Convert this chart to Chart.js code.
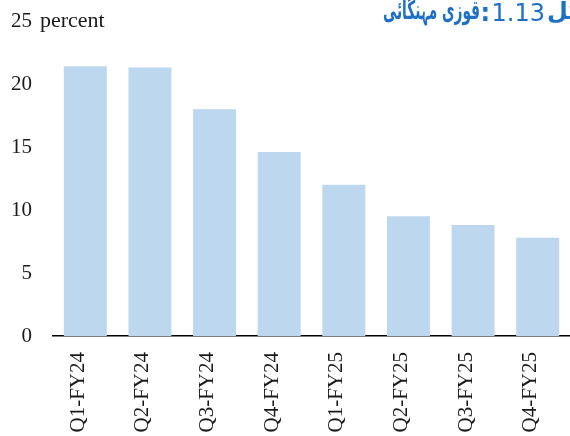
<!DOCTYPE html>
<html>
<head>
<meta charset="utf-8">
<script src="https://cdn.jsdelivr.net/npm/chart.js@4.4.1/dist/chart.umd.min.js"></script>
<style>
  html, body { margin: 0; padding: 0; background: #fff; }
  #wrap { width: 570px; height: 436px; position: relative; }
</style>
</head>
<body>
<div id="wrap"><canvas id="graph1"></canvas></div>
<script>
// quarters on the x axis
const quarters = ['Q1-FY24', 'Q2-FY24', 'Q3-FY24', 'Q4-FY24', 'Q1-FY25', 'Q2-FY25', 'Q3-FY25', 'Q4-FY25'];
// core inflation, percent
const coreInflation = [21.4, 21.3, 18.0, 14.6, 12.0, 9.5, 8.8, 7.8];
const yTicks = [0, 5, 10, 15, 20, 25];

const unitLabel = 'percent';
// heading pieces: word, figure number, colon, phrase (drawn right to left)
const titleWord = 'شکل';
const titleNumber = '1.13';
const titlePhrase = 'قوزی مہنگائی';

const serif = "'Liberation Serif', 'Times New Roman', serif";
const blue = '#1f6fc5';

// unit next to the top tick and the urdu heading on the right
const headings = {
  id: 'headings',
  afterDraw(chart) {
    const ctx = chart.ctx;
    ctx.save();
    ctx.fillStyle = '#1a1a1a';
    ctx.font = '22px ' + serif;
    ctx.textAlign = 'left';
    ctx.textBaseline = 'alphabetic';
    ctx.fillText(unitLabel, 40, 27);

    ctx.fillStyle = blue;
    // word runs off the right edge
    ctx.direction = 'rtl';
    ctx.font = "bold 24px 'DejaVu Sans', sans-serif";
    ctx.textAlign = 'left';
    ctx.fillText(titleWord, 547, 19);

    ctx.direction = 'ltr';
    ctx.font = "24px 'DejaVu Sans', sans-serif";
    ctx.textAlign = 'right';
    ctx.fillText(titleNumber, 545, 21);
    ctx.font = "bold 24px 'DejaVu Sans', sans-serif";
    ctx.fillText(':', 490, 21);

    ctx.direction = 'rtl';
    ctx.font = "bold 26px 'DejaVu Sans', sans-serif";
    ctx.textAlign = 'right';
    ctx.fillText(titlePhrase, 480, 19, 97);
    ctx.restore();
  }
};

const chart = new Chart(document.getElementById('graph1'), {
  type: 'bar',
  data: {
    labels: quarters,
    datasets: [{
      data: coreInflation,
      backgroundColor: '#bdd7ee',
      borderWidth: 0,
      categoryPercentage: 1,
      barPercentage: 0.665
    }]
  },
  options: {
    responsive: true,
    maintainAspectRatio: false,
    devicePixelRatio: 1,
    animation: false,
    layout: { padding: 0 },
    plugins: {
      legend: { display: false },
      tooltip: { enabled: false }
    },
    scales: {
      x: {
        grid: { display: false, drawTicks: false },
        border: { display: true, color: '#000', width: 1.5 },
        ticks: {
          color: '#1a1a1a',
          font: { family: serif, size: 21 },
          minRotation: 90,
          maxRotation: 90,
          padding: 16,
          labelOffset: -7
        },
        afterFit(axis) {
          axis.height = 100;
          axis.paddingLeft = 0;
          axis.paddingRight = 0;
          axis.paddingTop = 0;
        }
      },
      y: {
        min: 0,
        max: 25,
        afterBuildTicks(axis) {
          axis.ticks = yTicks.map(v => ({ value: v }));
        },
        afterFit(axis) {
          axis.width = 53;
          axis.paddingTop = 21;
          axis.paddingBottom = 0;
        },
        grid: { display: false, drawTicks: false },
        border: { display: false },
        ticks: {
          color: '#1a1a1a',
          font: { family: serif, size: 21 },
          padding: 21
        }
      }
    }
  },
  plugins: [headings]
});
</script>
</body>
</html>
